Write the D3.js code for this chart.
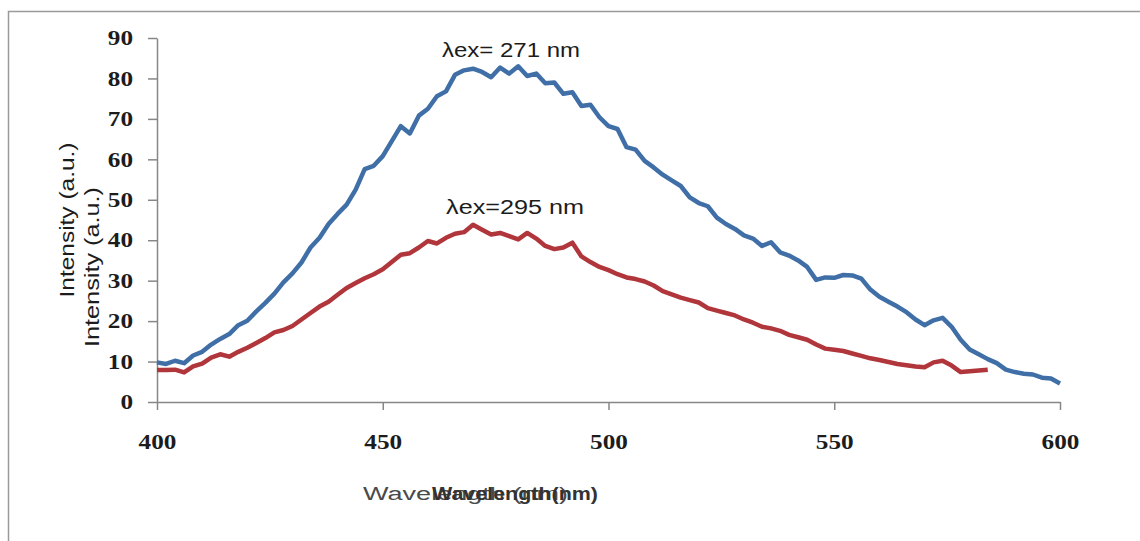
<!DOCTYPE html>
<html>
<head>
<meta charset="utf-8">
<script src="https://cdn.jsdelivr.net/npm/d3@7"></script>
<style>
  html, body { margin: 0; padding: 0; background: #fff; }
  svg { display: block; }
</style>
</head>
<body>
<svg id="chart" width="1140" height="541"></svg>
<script>
// ---- data ----
const wavelength271 = [400,402,404,406,408,410,412,414,416,418,420,422,424,426,428,430,432,434,436,438,440,442,444,446,448,450,452,454,456,458,460,462,464,466,468,470,472,474,476,478,480,482,484,486,488,490,492,494,496,498,500,502,504,506,508,510,512,514,516,518,520,522,524,526,528,530,532,534,536,538,540,542,544,546,548,550,552,554,556,558,560,562,564,566,568,570,572,574,576,578,580,582,584,586,588,590,592,594,596,598,600];
const intensity271 = [9.8,9.4,10.2,9.6,11.5,12.4,14.2,15.6,16.8,19.0,20.1,22.4,24.5,26.8,29.6,31.8,34.5,38.2,40.6,44.0,46.5,48.8,52.5,57.6,58.4,60.8,64.5,68.2,66.4,70.8,72.5,75.6,76.8,80.9,82.0,82.4,81.6,80.3,82.7,81.2,83.0,80.6,81.2,78.8,79.0,76.2,76.6,73.2,73.5,70.4,68.2,67.5,63.0,62.4,59.6,58.0,56.2,54.8,53.4,50.6,49.2,48.4,45.6,44.0,42.8,41.2,40.4,38.6,39.5,37.0,36.2,35.0,33.4,30.2,30.8,30.7,31.4,31.3,30.5,27.8,26.0,24.8,23.6,22.2,20.4,19.0,20.2,20.8,18.6,15.4,13.0,11.8,10.6,9.6,8.0,7.4,7.0,6.8,6.0,5.8,4.6];

const wavelength295 = [400,402,404,406,408,410,412,414,416,418,420,422,424,426,428,430,432,434,436,438,440,442,444,446,448,450,452,454,456,458,460,462,464,466,468,470,472,474,476,478,480,482,484,486,488,490,492,494,496,498,500,502,504,506,508,510,512,514,516,518,520,522,524,526,528,530,532,534,536,538,540,542,544,546,548,550,552,554,556,558,560,562,564,566,568,570,572,574,576,578,580,582,584];
const intensity295 = [7.9,7.9,8.0,7.3,8.8,9.5,11.0,11.8,11.2,12.4,13.4,14.6,15.8,17.2,17.8,18.8,20.4,22.0,23.6,24.8,26.5,28.2,29.4,30.6,31.6,32.8,34.6,36.4,36.8,38.2,39.8,39.2,40.6,41.6,42.0,43.8,42.6,41.4,41.8,41.0,40.2,41.8,40.4,38.6,37.8,38.2,39.4,36.0,34.6,33.4,32.6,31.6,30.8,30.4,29.8,28.8,27.4,26.6,25.8,25.2,24.6,23.2,22.6,22.0,21.4,20.4,19.6,18.6,18.2,17.6,16.6,16.0,15.4,14.2,13.2,12.9,12.6,12.0,11.4,10.8,10.4,9.9,9.4,9.1,8.8,8.6,9.8,10.2,9.0,7.4,7.6,7.8,8.0];

const xTicks = [400, 450, 500, 550, 600];
const yTicks = [0, 10, 20, 30, 40, 50, 60, 70, 80, 90];
const annotations = [
  { text: "λex= 271 nm", wl: 478.4, value: 85.2 },
  { text: "λex=295 nm", wl: 479.3, value: 46.6 }
];

// ---- chart ----
const svg = d3.select("#chart");

// outer frame
svg.append("rect")
  .attr("x", 8.5).attr("y", 11.5)
  .attr("width", 1200).attr("height", 600)
  .attr("fill", "none").attr("stroke", "#9a9a9a").attr("stroke-width", 1.5);

const x = d3.scaleLinear().domain([400, 600]).range([157, 1060]);
const y = d3.scaleLinear().domain([0, 90]).range([402, 38]);

function stretch(sel, factor) {
  sel.each(function () {
    const len = this.getComputedTextLength();
    d3.select(this).attr("textLength", len * factor).attr("lengthAdjust", "spacingAndGlyphs");
  });
}

// y axis
const gy = svg.append("g")
  .attr("transform", `translate(${x(400)},0)`)
  .call(d3.axisLeft(y).tickValues(yTicks).tickSize(9).tickSizeOuter(0).tickPadding(15));
gy.select(".domain").attr("stroke", "#878787").attr("stroke-width", 1.5);
gy.selectAll(".tick line").attr("stroke", "#878787").attr("stroke-width", 1.5);
gy.selectAll(".tick text")
  .attr("font-family", "'Liberation Serif', serif")
  .attr("font-weight", "bold")
  .attr("font-size", 21)
  .attr("fill", "#1c1c1c");
stretch(gy.selectAll(".tick text"), 1.2);

// x axis
const gx = svg.append("g")
  .attr("transform", `translate(0,${y(0)})`)
  .call(d3.axisBottom(x).tickValues(xTicks).tickSize(8).tickSizeOuter(0).tickPadding(24));
gx.select(".domain").attr("stroke", "#878787").attr("stroke-width", 1.5);
gx.selectAll(".tick line").attr("stroke", "#878787").attr("stroke-width", 1.5);
gx.selectAll(".tick text")
  .attr("font-family", "'Liberation Serif', serif")
  .attr("font-weight", "bold")
  .attr("font-size", 21)
  .attr("fill", "#1c1c1c");
stretch(gx.selectAll(".tick text"), 1.2);

// lines
const line = d3.line().x(d => x(d[0])).y(d => y(d[1])).curve(d3.curveLinear);
const s271 = wavelength271.map((w, i) => [w, intensity271[i]]);
const s295 = wavelength295.map((w, i) => [w, intensity295[i]]);

svg.append("path").datum(s295)
  .attr("d", line).attr("fill", "none")
  .attr("stroke", "#b0363b").attr("stroke-width", 4.5).attr("stroke-linejoin", "round");
svg.append("path").datum(s271)
  .attr("d", line).attr("fill", "none")
  .attr("stroke", "#3f6fa6").attr("stroke-width", 4.5).attr("stroke-linejoin", "round");

// annotations
svg.selectAll(".anno").data(annotations).enter().append("text")
  .attr("class", "anno")
  .attr("x", d => x(d.wl)).attr("y", d => y(d.value))
  .attr("text-anchor", "middle")
  .attr("font-family", "'Liberation Sans', Arial, sans-serif")
  .attr("font-size", 20)
  .attr("fill", "#1c1c1c")
  .text(d => d.text)
  .attr("textLength", 138).attr("lengthAdjust", "spacingAndGlyphs");

// y axis titles (two overlapping copies, as in the reference)
svg.append("text")
  .attr("transform", "translate(74,220) rotate(-90)")
  .attr("text-anchor", "middle")
  .attr("font-family", "'Liberation Sans', Arial, sans-serif")
  .attr("font-size", 20).attr("fill", "#1c1c1c")
  .attr("textLength", 155).attr("lengthAdjust", "spacingAndGlyphs")
  .text("Intensity (a.u.)");
svg.append("text")
  .attr("transform", "translate(99,267) rotate(-90)")
  .attr("text-anchor", "middle")
  .attr("font-family", "'Liberation Sans', Arial, sans-serif")
  .attr("font-size", 20).attr("fill", "#1c1c1c")
  .attr("textLength", 160).attr("lengthAdjust", "spacingAndGlyphs")
  .text("Intensity (a.u.)");

// x axis titles (two overlapping copies, as in the reference)
svg.append("text")
  .attr("x", 363).attr("y", 500)
  .attr("font-family", "'Liberation Sans', Arial, sans-serif")
  .attr("font-size", 18).attr("fill", "#4a4a4a")
  .attr("textLength", 205).attr("lengthAdjust", "spacingAndGlyphs")
  .text("Wavelength (nm)");
svg.append("text")
  .attr("x", 432).attr("y", 500)
  .attr("font-family", "'Liberation Sans', Arial, sans-serif")
  .attr("font-size", 18).attr("font-weight", "bold").attr("fill", "#333")
  .attr("textLength", 166).attr("lengthAdjust", "spacingAndGlyphs")
  .text("Wavelength(nm)");
</script>
</body>
</html>
